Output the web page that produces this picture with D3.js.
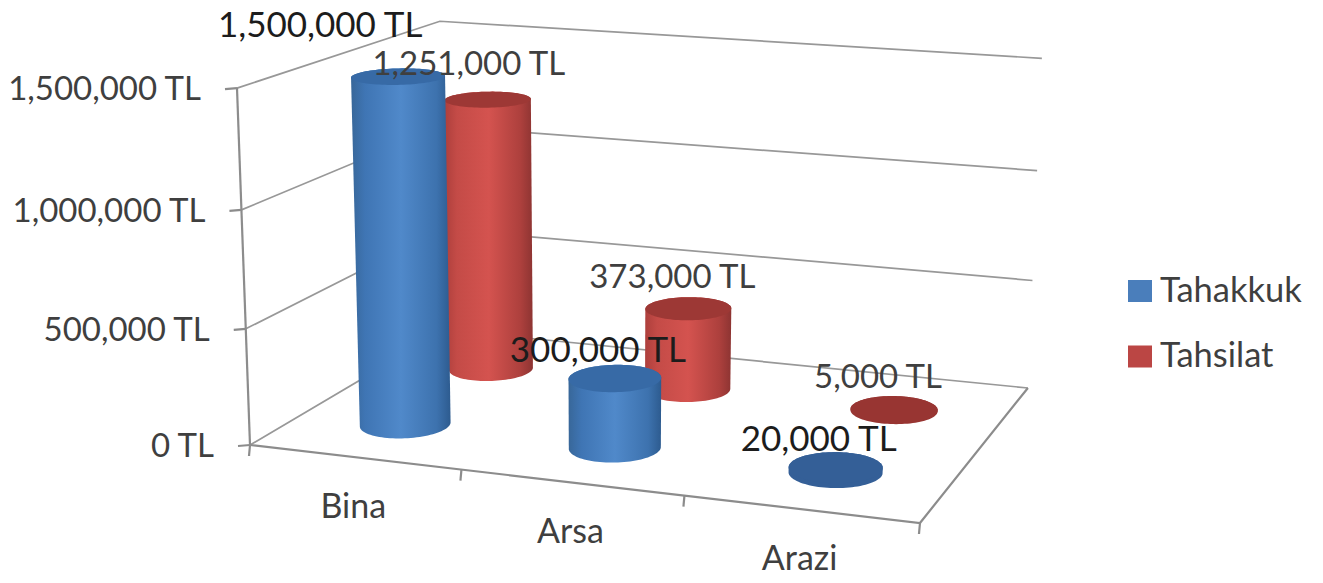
<!DOCTYPE html>
<html>
<head>
<meta charset="utf-8">
<script src="https://cdn.jsdelivr.net/npm/d3@7"></script>
<style>
  html, body { margin: 0; background: #fff; }
  svg { display: block; }
  text { font-family: Lato, "Open Sans", sans-serif; }
</style>
</head>
<body>
<svg id="chart" width="1323" height="583"></svg>
<script>
// Chart data
const categories = ["Bina", "Arsa", "Arazi"];
const seriesNames = ["Tahakkuk", "Tahsilat"];
const tahakkuk = [1500000, 300000, 20000];
const tahsilat = [1251000, 373000, 5000];
const valueTicks = [0, 500000, 1000000, 1500000];
const seriesValues = [tahakkuk, tahsilat];

const fmt = v => d3.format(",")(v) + " TL";
const svg = d3.select("#chart");

// Perspective camera: maps (across, depth, height), each in 0..1, to the screen.
const cam = { a: 598.4, b: 267.8, p: -21.3, c: 250, d: 37.3, e: -61, q: -360, f: 445, g: -0.0778, h: 0.1637, r: -0.035 };
function project(u, v, w) {
  const den = cam.g * u + cam.h * v + cam.r * w + 1;
  return [(cam.a * u + cam.b * v + cam.p * w + cam.c) / den,
          (cam.d * u + cam.e * v + cam.q * w + cam.f) / den];
}

const uBand = d3.scaleBand().domain(categories).range([0, 1]);
const vRow = d3.scaleOrdinal().domain(seriesNames).range([0.25, 0.72]);
const wScale = d3.scaleLinear().domain([0, 1500000]).range([0, 1]);

const gridColor = "#989898";
const axisColor = "#8c8c8c";
const textColor = "#3f3f3f";
const line = d3.line();
const closed = d3.line().curve(d3.curveLinearClosed);

// Back and side walls with their gridlines
const grid = svg.append("g").attr("fill", "none").attr("stroke", gridColor).attr("stroke-width", 1.7);
grid.selectAll("path.wall").data(valueTicks).join("path").attr("class", "wall")
  .attr("d", t => line([project(0, 0, wScale(t)), project(0, 1, wScale(t)), project(1, 1, wScale(t))]));

// Axis lines and tick marks
const axes = svg.append("g").attr("fill", "none").attr("stroke", axisColor).attr("stroke-width", 2.2);
axes.append("path").attr("d", line([project(0, 0, 0), project(0, 0, 1)]));
axes.append("path").attr("d", line([project(0, 0, 0), project(1, 0, 0), project(1, 1, 0)]));
axes.selectAll("path.vtick").data(valueTicks).join("path").attr("class", "vtick")
  .attr("d", t => { const p = project(0, 0, wScale(t)); return line([p, [p[0] - 12, p[1] + 1]]); });
axes.selectAll("path.ctick").data(d3.range(categories.length + 1)).join("path").attr("class", "ctick")
  .attr("d", i => { const p = project(i / categories.length, 0, 0); return line([p, [p[0] - 1, p[1] + 11]]); });

// Value axis labels
svg.append("g").selectAll("text").data(valueTicks).join("text")
  .attr("x", t => project(0, 0, wScale(t))[0] - 36)
  .attr("y", t => project(0, 0, wScale(t))[1] + 12)
  .attr("text-anchor", "end").attr("font-size", 33).attr("fill", textColor)
  .text(fmt);

// Category labels
svg.append("g").selectAll("text").data(categories).join("text")
  .attr("x", c => project(uBand(c) + uBand.bandwidth() / 2, 0, 0)[0] - 1)
  .attr("y", c => project(uBand(c) + uBand.bandwidth() / 2, 0, 0)[1] + 61)
  .attr("text-anchor", "middle").attr("font-size", 34).attr("fill", textColor)
  .text(c => c);

// Cylinder shading
const defs = svg.append("defs");
const palettes = [
  { side: ["#386799", "#3f75b4", "#5089ca", "#3d72ae", "#2d5b8f"], top: "#376aa6", flat: "#345f97" },
  { side: ["#ad3f3c", "#c44b47", "#d4534f", "#ad403d", "#8d3432"], top: "#9d3835", flat: "#983532" }
];
const stops = [0, 0.14, 0.5, 0.86, 1];
palettes.forEach((pal, i) => {
  const g = defs.append("linearGradient").attr("id", "side" + i);
  stops.forEach((o, k) => g.append("stop").attr("offset", o).attr("stop-color", pal.side[k]));
});

// Cylinders are real circles in floor space, projected into outlines
const radiusU = 0.066, radiusV = 0.105;
const angles = d3.range(0, Math.PI * 2, Math.PI / 48);
function ring(u, v, w) {
  return angles.map(t => project(u + radiusU * Math.cos(t), v + radiusV * Math.sin(t), w));
}

const bars = [];
seriesNames.forEach((s, si) => categories.forEach((c, ci) => {
  bars.push({ si, ci, value: seriesValues[si][ci],
    u: uBand(c) + uBand.bandwidth() / 2, v: vRow(s) });
}));

// Rear row first so the front row overlaps it
const drawOrder = bars.slice().sort((a, b) => b.si - a.si);
const cyl = svg.append("g");
drawOrder.forEach(b => {
  const w = wScale(b.value);
  const base = ring(b.u, b.v, 0), top = ring(b.u, b.v, w);
  const pal = palettes[b.si];
  const isFlat = b.value < 50000;
  cyl.append("path").attr("d", closed(d3.polygonHull(base.concat(top))))
    .attr("fill", isFlat ? pal.flat : `url(#side${b.si})`);
  cyl.append("path").attr("d", closed(top))
    .attr("fill", isFlat ? pal.flat : pal.top);
});

// Data labels, placed up and left of each cylinder top; the two Bina labels sit higher
const labelShift = [{ dx: -17, dy: -16 }, { dx: -16, dy: -21 }];
const binaLabelShift = [{ dx: -78, dy: -40 }, { dx: -19, dy: -25 }];
const dataFontSizes = [35, 33];
const shiftOf = b => (b.ci === 0 ? binaLabelShift : labelShift)[b.si];
svg.append("g").selectAll("text").data(bars).join("text")
  .attr("x", b => project(b.u, b.v, wScale(b.value))[0] + shiftOf(b).dx)
  .attr("y", b => project(b.u, b.v, wScale(b.value))[1] + shiftOf(b).dy)
  .attr("text-anchor", "middle")
  .attr("font-size", b => dataFontSizes[b.si])
  .attr("fill", b => b.si === 0 ? "#1c1c1c" : textColor)
  .text(b => fmt(b.value));

// Legend
const legendY = d3.scalePoint().domain(seriesNames).range([291, 356.5]);
const legend = svg.append("g").selectAll("g").data(seriesNames).join("g")
  .attr("transform", s => `translate(1128,${legendY(s)})`);
legend.append("rect").attr("x", 0).attr("y", -11).attr("width", 24).attr("height", 22)
  .attr("fill", (s, i) => i === 0 ? "#4a7ebb" : "#bb4644");
legend.append("text").attr("x", 32).attr("y", 10.5).attr("font-size", 34.5).attr("fill", textColor)
  .text(s => s);
</script>
</body>
</html>
